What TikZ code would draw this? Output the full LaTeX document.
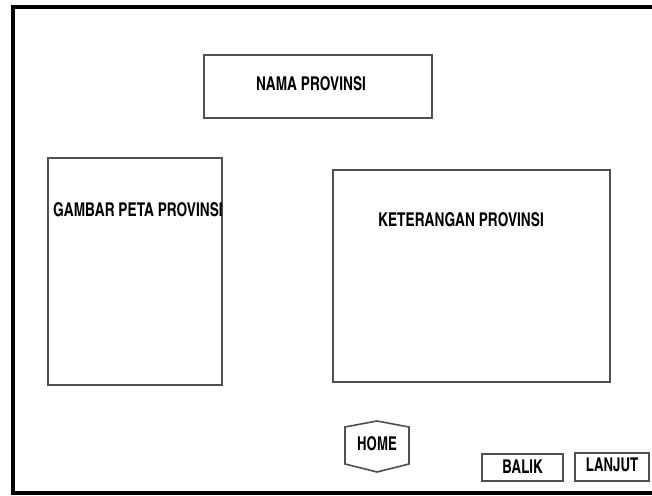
\documentclass[tikz,border=0pt]{standalone}
\usepackage{fontspec}
\usepackage{tikz}
\usetikzlibrary{positioning}
\newfontfamily\mockfont{texgyreheroscn-bold.otf}
\definecolor{framegray}{RGB}{80,80,80}

\begin{document}
\begin{tikzpicture}[x=1pt, y=-1pt,
                    panel/.style={draw=framegray, line width=1.6pt, inner sep=0pt},
                    caption/.style={font=\mockfont\fontsize{19}{19}\selectfont, inner sep=0pt, xscale=0.88, transform shape},
                    btnlabel/.style={font=\mockfont\fontsize{19}{19}\selectfont, inner sep=0pt, xscale=0.85, transform shape}]
                    \useasboundingbox (0,0) rectangle (652,495);
                    \fill[white] (0,0) rectangle (652,495);
                    \draw[line width=4pt] (13,495) -- (13,7) -- (652,7);
                    \draw[line width=4pt] (11,493) -- (652,493);
                    \node[panel, minimum width=228, minimum height=63] (nama) at (318,86.5) {};
                    \node[caption] (namatext) at (311,84) {NAMA PROVINSI};
                    \node[panel, minimum width=174, minimum height=227] (peta) at (135,271.5) {};
                    \node[caption] (petatext) at (138,210) {GAMBAR PETA PROVINSI};
                    \node[panel, minimum width=277, minimum height=212] (info) at (471.5,276) {};
                    \node[caption] (infotext) at (461,220) {KETERANGAN PROVINSI};
                    \node[btnlabel] (home) at (377,444) {HOME};
                    \draw[panel] (345,427) -- (377,421) -- (409,427) -- (409,464) -- (377,472) -- (345,464) -- cycle;
                    \node[panel, minimum width=81, minimum height=27] (balik) at (522.5,467.5) {};
                    \node[btnlabel] (baliktext) at (522.5,467) {BALIK};
                    \node[panel, minimum width=74, minimum height=28] (lanjut) at (612,467) {};
                    \node[btnlabel] (lanjuttext) at (612,465) {LANJUT};
                \end{tikzpicture}
\end{document}
